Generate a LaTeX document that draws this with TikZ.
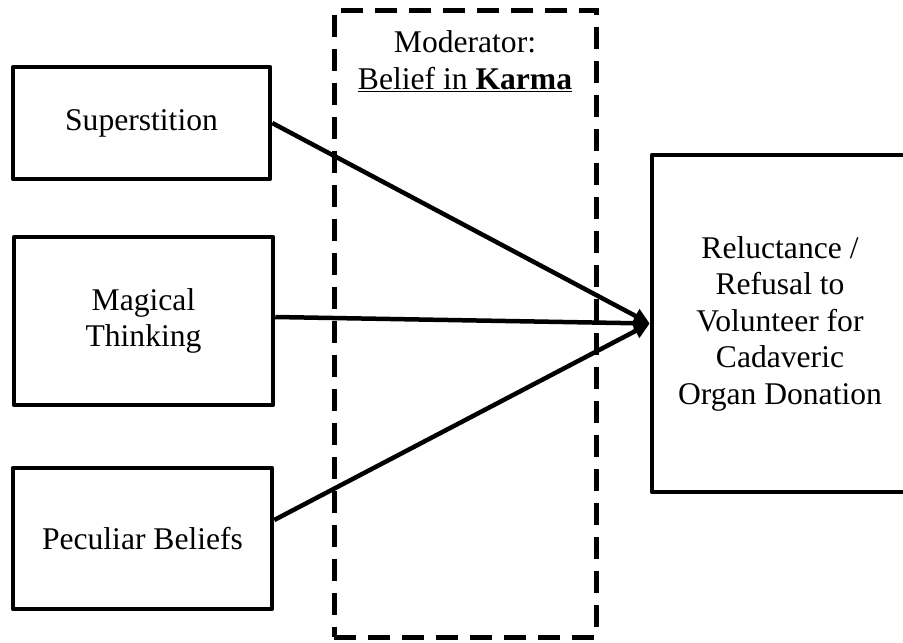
\documentclass[tikz,border=0pt]{standalone}
\usepackage{fontspec}
\setmainfont{Liberation Serif}
\usetikzlibrary{arrows.meta}
\begin{document}
\begin{tikzpicture}[x=1pt,y=-1pt,
  txt/.style={font=\fontsize{31.6}{36.5}\selectfont, align=center},
  boxnode/.style={txt, draw=black, line width=4.5pt, rectangle, inner sep=0pt, line join=round},
  modbox/.style={draw=black, line width=5pt, dash pattern=on 22pt off 12pt, rectangle, inner sep=0pt},
  arr/.style={line width=4.5pt, -{Triangle[length=16pt,width=15pt]}}
]
\useasboundingbox[fill=white] (0,0) rectangle (903,643);
% moderator dashed box
\node[modbox, minimum width=262pt, minimum height=627pt] (mod) at (465,323.5) {};
\node[txt] (modlabel) at (465,61) {Moderator:\\\underline{Belief in \textbf{Karma}}};
% left boxes
\node[boxnode, minimum width=257pt, minimum height=112pt] (sup) at (141.5,123) {Superstition};
\node[boxnode, minimum width=259pt, minimum height=168pt] (mag) at (143.5,321) {Magical\\Thinking};
\node[boxnode, minimum width=259pt, minimum height=141pt] (pec) at (142.5,538.5) {Peculiar Beliefs};
% outcome box
\node[boxnode, minimum width=256pt, minimum height=337pt] (rt) at (780,323.5) {Reluctance /\\Refusal to\\Volunteer for\\Cadaveric\\Organ Donation};
% arrows
\draw[arr] (sup.east) -- (rt.west);
\draw[arr] ([yshift=4pt]mag.east) -- (rt.west);
\draw[arr] ([yshift=18.5pt]pec.east) -- (rt.west);
\end{tikzpicture}
\end{document}
